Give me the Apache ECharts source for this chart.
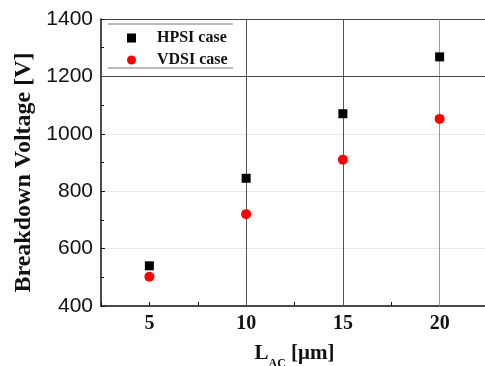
<!DOCTYPE html>
<html>
<head>
<meta charset="utf-8">
<script src="https://cdn.jsdelivr.net/npm/echarts@6/dist/echarts.min.js"></script>
<style>
  html, body { margin: 0; padding: 0; background: #fff; }
  #chart { width: 485px; height: 366px; }
</style>
</head>
<body>
<div id="chart"></div>
<script>
// L_AC values (um)
var lengths = [5, 10, 15, 20];
// breakdown voltage (V)
var hpsi = [540, 845, 1070, 1268];
var vdsi = [502, 720, 910, 1052];
// axis ticks
var xTicks = [5, 10, 15, 20];
var yTicks = [400, 600, 800, 1000, 1200, 1400];

var serif = '"Liberation Serif", "Times New Roman", serif';
var sans = '"Liberation Sans", Arial, sans-serif';

function pairs(xs, ys) {
    return xs.map(function (x, i) { return [x, ys[i]]; });
}

var myChart = echarts.init(document.getElementById('chart'));
var option = {
    animation: false,
    backgroundColor: '#fff',
    grid: { left: 101, width: 387, top: 19, height: 287, outerBoundsMode: 'none' },
    legend: {
        orient: 'vertical',
        left: 122,
        top: 25,
        itemGap: 6,
        itemWidth: 9,
        itemHeight: 9,
        textStyle: {
            fontFamily: serif, fontWeight: 'bold', fontSize: 16, color: '#111',
            padding: [0, 0, 0, 16]
        },
        data: [
            { name: 'HPSI case', icon: 'rect' },
            { name: 'VDSI case', icon: 'circle' }
        ]
    },
    graphic: [
        { type: 'line', shape: { x1: 108, y1: 24, x2: 233, y2: 24 }, style: { stroke: '#777', lineWidth: 1 } },
        { type: 'line', shape: { x1: 108, y1: 68, x2: 233, y2: 68 }, style: { stroke: '#777', lineWidth: 1 } }
    ],
    xAxis: [{
        type: 'value',
        min: 2.5,
        max: 22.5,
        interval: 2.5,
        name: '{a|L}{s|AC}{a| [μm]}',
        nameLocation: 'middle',
        nameGap: 37,
        nameTextStyle: {
            rich: {
                a: { fontFamily: serif, fontWeight: 'bold', fontSize: 21, color: '#111', verticalAlign: 'top' },
                s: { fontFamily: serif, fontWeight: 'bold', fontSize: 12, color: '#111', padding: [15, 0, 0, 0], verticalAlign: 'top' }
            }
        },
        axisLine: { onZero: false, lineStyle: { color: '#111', width: 1.5 } },
        axisTick: { inside: true, length: 4, lineStyle: { color: '#111' } },
        axisLabel: {
            margin: 8,
            fontFamily: serif, fontWeight: 'bold', fontSize: 20, color: '#111',
            formatter: function (v) { return xTicks.indexOf(v) >= 0 ? String(v) : ''; }
        },
        splitLine: { show: false }
    }, {
        type: 'value',
        position: 'top',
        min: 2.5,
        max: 22.5,
        interval: 2.5,
        axisLine: { show: true, onZero: false, lineStyle: { color: '#444', width: 1 } },
        axisTick: { show: false },
        axisLabel: { show: false },
        splitLine: { show: false }
    }],
    yAxis: {
        type: 'value',
        min: yTicks[0],
        max: yTicks[yTicks.length - 1],
        interval: 200,
        name: 'Breakdown Voltage [V]',
        nameLocation: 'middle',
        nameGap: 59,
        nameTextStyle: {
            fontFamily: serif, fontWeight: 'bold', fontSize: 24, color: '#111',
            padding: [0, 20, 0, 0]
        },
        axisLine: { show: true, lineStyle: { color: '#111', width: 1.5 } },
        axisTick: { inside: true, length: 4, lineStyle: { color: '#111' } },
        minorTick: { show: true, splitNumber: 2, length: 3, lineStyle: { color: '#111' } },
        axisLabel: {
            margin: 8, fontFamily: sans, fontSize: 21, color: '#111',
            formatter: function (v) { return String(v); }
        },
        splitLine: { show: true, lineStyle: { color: '#e6e6e6', width: 1 } }
    },
    series: [{
        name: 'HPSI case',
        type: 'scatter',
        symbol: 'rect',
        symbolSize: 9,
        itemStyle: { color: '#000', opacity: 1 },
        data: pairs(lengths, hpsi),
        z: 5,
        markLine: {
            silent: true,
            symbol: 'none',
            label: { show: false },
            data: [
                { xAxis: 10, lineStyle: { color: '#555', width: 1, type: 'solid' } },
                { xAxis: 15, lineStyle: { color: '#555', width: 1, type: 'solid' } },
                { xAxis: 20, lineStyle: { color: '#999', width: 1, type: 'solid' } },
                { yAxis: 1200, lineStyle: { color: '#444', width: 1, type: 'solid' } }
            ]
        }
    }, {
        name: 'VDSI case',
        type: 'scatter',
        symbol: 'circle',
        symbolSize: 10,
        itemStyle: { color: '#ff0000', opacity: 1 },
        data: pairs(lengths, vdsi),
        z: 5
    }]
};
myChart.setOption(option);
</script>
</body>
</html>
